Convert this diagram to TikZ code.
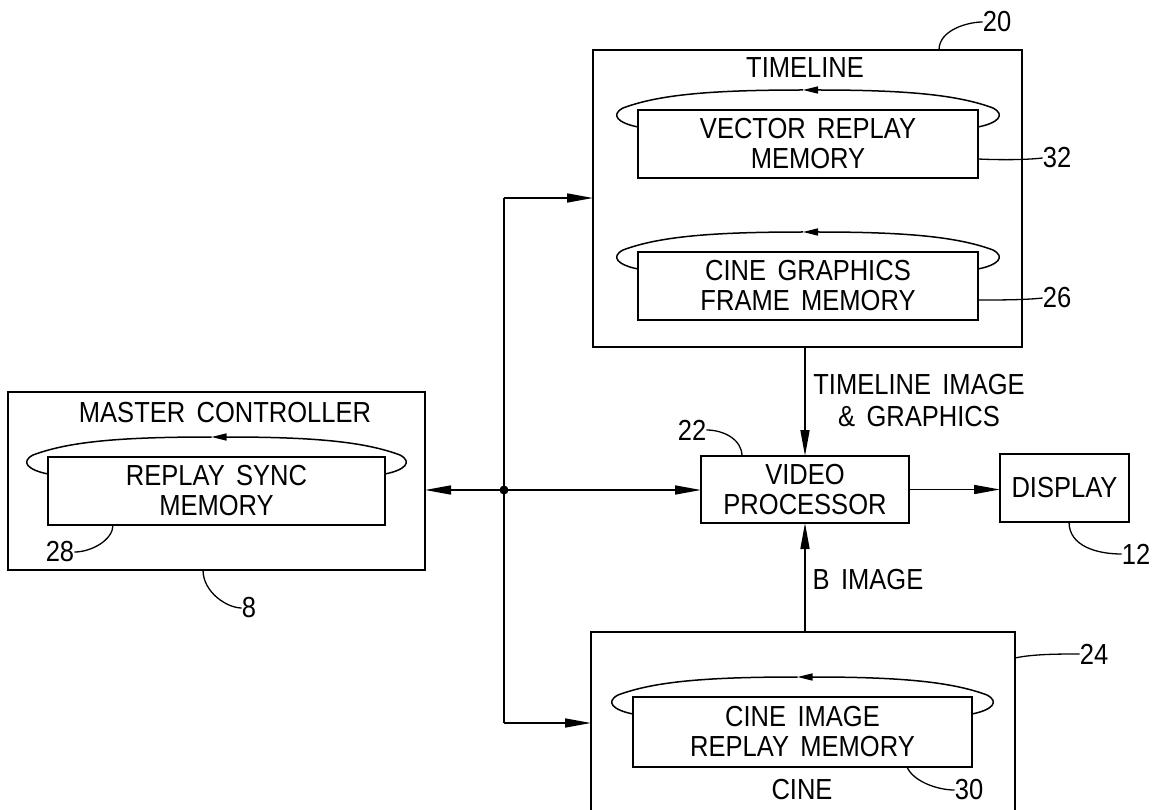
\documentclass[tikz,border=0pt]{standalone}
\usepackage{fontspec}
\setmainfont{Liberation Sans}[FakeStretch=0.88, WordSpace=1.6]
\usetikzlibrary{arrows.meta,calc}
\newcommand{\txtsize}{\fontsize{29}{30}\selectfont}
\newcommand{\memloop}[1]{%
  \draw[looppath,-{Triangle[length=15pt,width=7pt]}]
    ($(#1.north east)+(0,17)$) .. controls ($(#1.north east)+(20,13)$) and ($(#1.north east)+(28,5)$) ..
    ($(#1.north east)+(15,-2)$) .. controls ($(#1.north east)+(-20,-15)$) and ($(#1.north)+(100,-20)$) ..
    ($(#1.north)+(-5,-20)$);
  \draw[looppath]
    ($(#1.north)+(-5,-20)$) .. controls ($(#1.north)+(-100,-20)$) and ($(#1.north west)+(20,-15)$) ..
    ($(#1.north west)+(-15,-2)$) .. controls ($(#1.north west)+(-28,5)$) and ($(#1.north west)+(-20,13)$) ..
    ($(#1.north west)+(0,17)$);
}
\begin{document}
\begin{tikzpicture}[x=1pt,y=-1pt,font=\txtsize,
  box/.style={draw,line width=1.8pt,inner sep=0pt,outer sep=0pt,align=center},
  conn/.style={line width=1.6pt},
  arr/.style={conn,-{Triangle[length=26pt,width=9pt]}},
  looppath/.style={line width=1.5pt},
  leader/.style={line width=1.3pt},
  lbl/.style={inner sep=0pt,align=center}]
\useasboundingbox (0,0) rectangle (1157,810);
% boxes
\node[box,minimum width=429pt,minimum height=297pt] (tl) at (807.5,198.5) {};
\node[box,minimum width=340pt,minimum height=68pt] (vrm) at (808,144) {VECTOR REPLAY\\MEMORY};
\node[box,minimum width=340pt,minimum height=68pt] (cgm) at (808,286) {CINE GRAPHICS\\FRAME MEMORY};
\node[box,minimum width=417pt,minimum height=178pt] (mc) at (216.5,481) {};
\node[box,minimum width=337pt,minimum height=68pt] (rsm) at (216.5,491) {REPLAY SYNC\\MEMORY};
\node[box,minimum width=208pt,minimum height=67pt] (vp) at (805,489.5) {VIDEO\\PROCESSOR};
\node[box,minimum width=129pt,minimum height=68pt] (disp) at (1064.5,488) {DISPLAY};
\node[box,minimum width=424pt,minimum height=200pt] (cine) at (803,732) {};
\node[box,minimum width=339pt,minimum height=70pt] (cir) at (802.5,732) {CINE IMAGE\\REPLAY MEMORY};
% titles
\node[lbl] (tltitle) at (805,68) {TIMELINE};
\node[lbl] (mctitle) at (225,413) {MASTER CONTROLLER};
\node[lbl] (cinetitle) at (802,790) {CINE};
\node[lbl] (tlimg) at (919,401) {TIMELINE IMAGE\\[2pt]\& GRAPHICS};
\node[lbl] (bimg) at (868,580) {B IMAGE};
% loops
\memloop{vrm}
\memloop{cgm}
\memloop{rsm}
\memloop{cir}
% bus
\coordinate (j) at (504,490);
\coordinate (tb) at (504,198);
\coordinate (bb) at (504,723);
\draw[conn] (tb) -- (bb);
\fill (j) circle (4.5pt);
\draw[arr] (j) -- (j -| mc.east);
\draw[arr] (j) -- (j -| vp.west);
\draw[arr] (tb) -- (tb -| tl.west);
\draw[arr] (bb) -- (bb -| cine.west);
\draw[arr] (vp.north |- tl.south) -- (vp.north);
\draw[arr] (vp.south |- cine.north) -- (vp.south);
\draw[arr] (vp.east) -- (vp.east -| disp.west);
% reference numerals
\node[lbl] (n20) at (997,22) {20};
\node[lbl] (n32) at (1057,158) {32};
\node[lbl] (n26) at (1057,298) {26};
\node[lbl] (n22) at (692,430) {22};
\node[lbl] (n12) at (1136,554) {12};
\node[lbl] (n8) at (249,608) {8};
\node[lbl] (n28) at (60,552) {28};
\node[lbl] (n30) at (969,790) {30};
\node[lbl] (n24) at (1094,654) {24};
\draw[leader] ($(tl.north west)+(346,0)$) .. controls +(0,-20) and +(-15,0) .. (n20.west);
\draw[leader] ($(vrm.north east)+(0,49)$) .. controls +(22,1) and +(-18,2) .. (n32.west);
\draw[leader] ($(cgm.north east)+(0,48)$) .. controls +(22,0) and +(-18,2) .. (n26.west);
\draw[leader] (n22.east) .. controls +(18,0) and +(0,-16) .. ($(vp.north west)+(41,0)$);
\draw[leader] ($(disp.south west)+(69,0)$) .. controls +(0,24) and +(-25,0) .. (n12.west);
\draw[leader] ($(mc.south west)+(195,0)$) .. controls +(0,22) and +(-15,0) .. (n8.west);
\draw[leader] ($(rsm.south west)+(65,0)$) .. controls +(0,15) and +(17,0) .. (n28.east);
\draw[leader] ($(cir.south west)+(274,0)$) .. controls +(6,14) and +(-18,0) .. (n30.west);
\draw[leader] ($(cine.north east)+(0,26)$) .. controls +(18,-4) and +(-20,0) .. (n24.west);
\end{tikzpicture}
\end{document}
